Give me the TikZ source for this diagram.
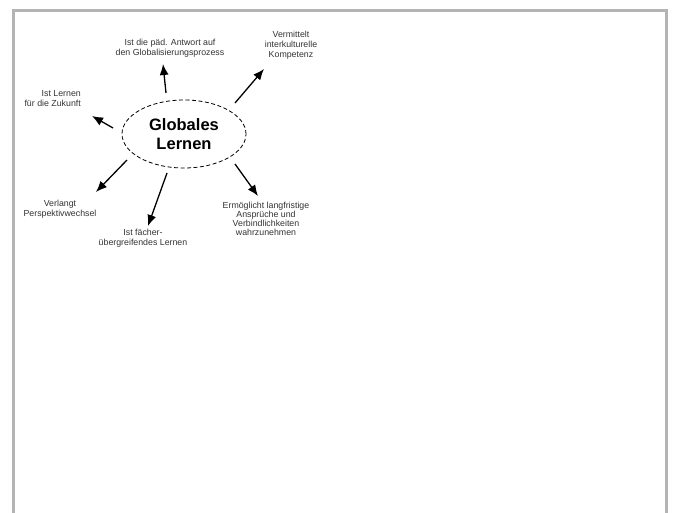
\documentclass[tikz,border=0pt]{standalone}
\usepackage{fontspec}
\setmainfont{Liberation Sans}
\usetikzlibrary{arrows.meta,shapes.geometric}
\begin{document}
\begin{tikzpicture}[x=1pt,y=-1pt,
  lbl/.style={font=\fontsize{8.8}{10}\selectfont, align=center, inner sep=0pt, text=black!80},
  arr/.style={line width=1.3pt, -{Latex[length=11pt,width=9pt]}},
  core/.style={ellipse, draw, dash pattern=on 4pt off 2.5pt, line width=0.8pt,
    minimum width=124pt, minimum height=68pt, inner sep=0pt, align=center,
    font=\fontsize{16.5}{19.5}\selectfont\bfseries}]
\useasboundingbox (0,0) rectangle (674,513);
\begin{scope}
\clip (0,0) rectangle (674,513);
\draw[line width=3pt, draw={rgb,255:red,180;green,180;blue,182}] (13.5,10.5) rectangle (666.5,530);
\end{scope}
\node[core] (g) at (184,134) {Globales\\Lernen};
\node[lbl] (t1) at (170,48) {Ist die päd. Antwort auf\\den Globalisierungsprozess};
\node[lbl] (t2) at (291,45) {Vermittelt\\interkulturelle\\Kompetenz};
\node[lbl, align=right, anchor=east] (t3) at (81,99) {Ist Lernen\\für die Zukunft};
\node[lbl] (t4) at (60,209) {Verlangt\\Perspektivwechsel};
\node[lbl] (t5) at (143,238) {Ist fächer-\\übergreifendes Lernen};
\node[lbl, font=\fontsize{8.8}{9.2}\selectfont] (t6) at (266,219) {Ermöglicht langfristige\\Ansprüche und\\Verbindlichkeiten\\wahrzunehmen};
\coordinate (s1) at (166,93);  \coordinate (e1) at (163,64);
\coordinate (s2) at (235,103); \coordinate (e2) at (264,69);
\coordinate (s3) at (113,128); \coordinate (e3) at (92,116);
\coordinate (s4) at (127,160); \coordinate (e4) at (96,192);
\coordinate (s5) at (167,173); \coordinate (e5) at (148,226);
\coordinate (s6) at (235,164); \coordinate (e6) at (258,196);
\draw[arr] (s1) -- (e1);
\draw[arr] (s2) -- (e2);
\draw[arr] (s3) -- (e3);
\draw[arr] (s4) -- (e4);
\draw[arr] (s5) -- (e5);
\draw[arr] (s6) -- (e6);
\end{tikzpicture}
\end{document}
